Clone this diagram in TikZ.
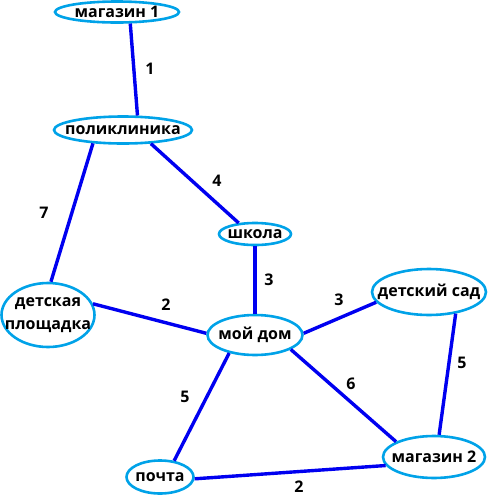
\documentclass[tikz,border=0pt]{standalone}
\usepackage{fontspec}
\setmainfont{Open Sans}
\usetikzlibrary{shapes.geometric}
\definecolor{ellcol}{RGB}{0,162,232}
\definecolor{edgecol}{RGB}{0,0,240}
\tikzset{
  place/.style={ellipse, draw=ellcol, line width=2.6pt, inner sep=0pt},
  lab/.style={align=center, inner sep=0pt, font=\fontsize{16}{23}\selectfont\bfseries},
  road/.style={draw=edgecol, line width=3.4pt},
  wt/.style={font=\fontsize{16}{18}\selectfont\bfseries}
}
\begin{document}
\begin{tikzpicture}[x=1pt,y=-1pt]
\useasboundingbox (0,0) rectangle (488,496);
\node[place, minimum width=124pt, minimum height=21pt, label={[lab]center:магазин 1}] (m1) at (117,12) {};
\node[place, minimum width=138pt, minimum height=27pt, label={[lab]center:поликлиника}] (pk) at (123,130) {};
\node[place, minimum width=72pt, minimum height=22pt, label={[lab]center:школа}] (sk) at (255,234) {};
\node[place, minimum width=114pt, minimum height=46pt, label={[lab]center:детский сад}] (ds) at (429,292) {};
\node[place, minimum width=95pt, minimum height=40pt, label={[lab]center:мой дом}] (md) at (255,335) {};
\node[place, minimum width=93pt, minimum height=64pt, label={[lab]center:детская\\площадка}] (dp) at (48,315) {};
\node[place, minimum width=67pt, minimum height=33pt, label={[lab]center:почта}] (po) at (160,477) {};
\node[place, minimum width=102pt, minimum height=42pt, label={[lab]center:магазин 2}] (m2) at (434,457) {};

\draw[road] (m1.-41) -- (pk.45);
\draw[road] (pk.-156) -- (dp.85);
\draw[road] (pk.-26) -- (sk.146);
\draw[road] (sk.south) -- (md.north);
\draw[road] (dp.14) -- (md.178);
\draw[road] (md.2) -- (ds.-169);
\draw[road] (md.-22) -- (m2.158);
\draw[road] (md.-145) -- (po.49);
\draw[road] (ds.-39) -- (m2.77);
\draw[road] (po.-3) -- (m2.190);

\node[wt] (w1) at (150,69) {1};
\node[wt] (w2) at (217,181) {4};
\node[wt] (w3) at (44,213) {7};
\node[wt] (w4) at (269,280) {3};
\node[wt] (w5) at (166,305) {2};
\node[wt] (w6) at (339,300) {3};
\node[wt] (w7) at (462,363) {5};
\node[wt] (w8) at (351,384) {6};
\node[wt] (w9) at (185,397) {5};
\node[wt] (w10) at (299,487) {2};
\end{tikzpicture}
\end{document}
